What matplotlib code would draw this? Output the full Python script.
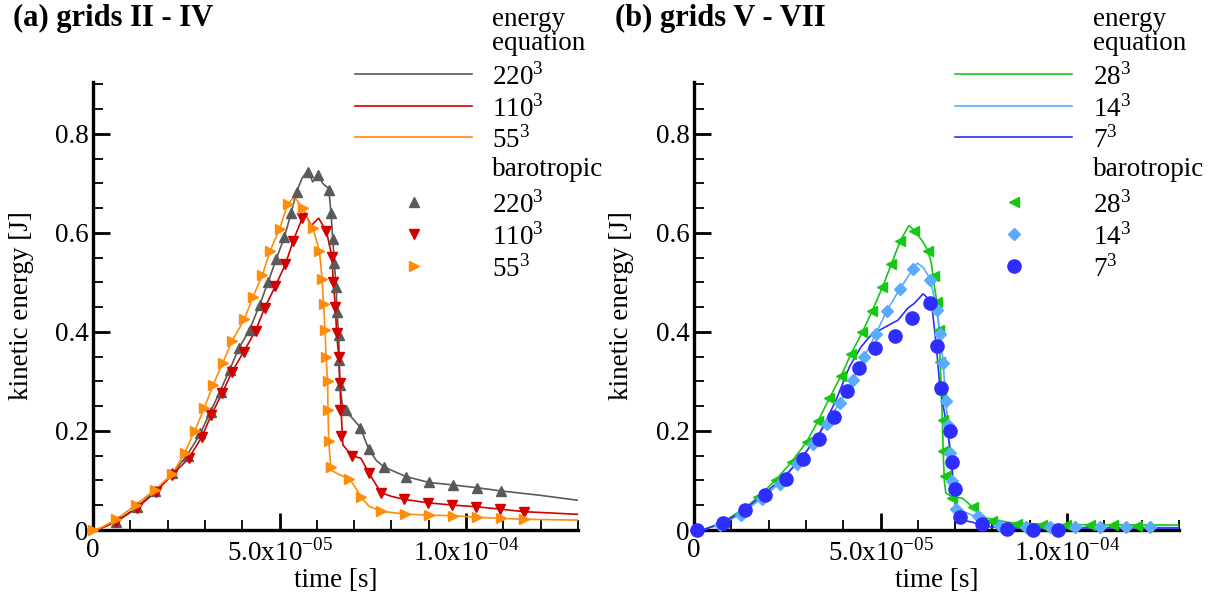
import matplotlib
matplotlib.use("Agg")
import matplotlib.pyplot as plt
import numpy as np
from matplotlib.ticker import MultipleLocator, FixedLocator, FixedFormatter

plt.rcParams['font.family'] = ['Liberation Serif', 'DejaVu Serif']
plt.rcParams['mathtext.fontset'] = 'custom'
plt.rcParams['mathtext.rm'] = 'Liberation Serif'

SCALE = 1e-4  # time values below are in units of 1e-4 s

# ---------------- panel (a) : grids II - IV ----------------
e220_t = [0, 0.02, 0.063, 0.118, 0.166, 0.211, 0.251, 0.286, 0.313, 0.340, 0.366, 0.391, 0.420, 0.447,
          0.469, 0.491, 0.513, 0.531, 0.546, 0.560, 0.576, 0.589, 0.602, 0.616, 0.632, 0.638, 0.643,
          0.647, 0.652, 0.654, 0.659, 0.660, 0.662, 0.668, 0.678, 0.700, 0.717, 0.739, 0.760, 0.781,
          0.839, 0.901, 0.965, 1.029, 1.093, 1.20, 1.30]
e220_E = [0, 0.003, 0.018, 0.046, 0.079, 0.112, 0.150, 0.192, 0.236, 0.279, 0.323, 0.367, 0.405, 0.455,
          0.500, 0.547, 0.591, 0.640, 0.683, 0.710, 0.727, 0.703, 0.719, 0.700, 0.690, 0.640, 0.587,
          0.539, 0.490, 0.440, 0.394, 0.343, 0.293, 0.255, 0.240, 0.222, 0.207, 0.163, 0.140, 0.127,
          0.108, 0.096, 0.091, 0.0855, 0.079, 0.070, 0.060]

b220_t = [0.063, 0.117, 0.166, 0.212, 0.255, 0.286, 0.316, 0.342, 0.366, 0.391, 0.420, 0.447, 0.469,
          0.491, 0.513, 0.531, 0.546, 0.576, 0.602, 0.632, 0.638, 0.643, 0.647, 0.652, 0.654, 0.659,
          0.660, 0.661, 0.678, 0.717, 0.739, 0.781, 0.839, 0.901, 0.965, 1.029, 1.093]
b220_E = [0.017, 0.046, 0.079, 0.115, 0.149, 0.195, 0.239, 0.279, 0.323, 0.367, 0.405, 0.455, 0.500,
          0.547, 0.591, 0.640, 0.683, 0.724, 0.717, 0.687, 0.640, 0.587, 0.539, 0.490, 0.440, 0.394,
          0.343, 0.293, 0.242, 0.207, 0.163, 0.127, 0.108, 0.096, 0.091, 0.0855, 0.079]

e110_t = [0, 0.02, 0.063, 0.117, 0.168, 0.212, 0.257, 0.291, 0.317, 0.346, 0.373, 0.404, 0.436, 0.460,
          0.489, 0.516, 0.536, 0.561, 0.570, 0.584, 0.605, 0.626, 0.641, 0.644, 0.650, 0.653, 0.659,
          0.662, 0.665, 0.670, 0.694, 0.718, 0.739, 0.772, 0.800, 0.834, 0.897, 0.962, 1.026, 1.090,
          1.155, 1.30]
e110_E = [0, 0.003, 0.017, 0.044, 0.077, 0.111, 0.145, 0.187, 0.232, 0.276, 0.320, 0.360, 0.403, 0.448,
          0.493, 0.537, 0.583, 0.630, 0.640, 0.614, 0.630, 0.603, 0.551, 0.500, 0.450, 0.397, 0.350,
          0.293, 0.242, 0.172, 0.150, 0.145, 0.116, 0.0754, 0.068, 0.062, 0.055, 0.0505, 0.047, 0.0424,
          0.037, 0.0317]

b110_t = [0.063, 0.117, 0.168, 0.212, 0.257, 0.291, 0.317, 0.346, 0.373, 0.404, 0.436, 0.460, 0.489,
          0.516, 0.536, 0.561, 0.626, 0.641, 0.644, 0.650, 0.653, 0.659, 0.662, 0.662, 0.665, 0.694,
          0.739, 0.772, 0.834, 0.897, 0.962, 1.026, 1.090, 1.155]
b110_E = [0.017, 0.044, 0.077, 0.111, 0.145, 0.187, 0.232, 0.276, 0.320, 0.360, 0.403, 0.448, 0.493,
          0.537, 0.583, 0.630, 0.603, 0.551, 0.500, 0.450, 0.397, 0.350, 0.296, 0.242, 0.190, 0.150,
          0.116, 0.0754, 0.062, 0.055, 0.0505, 0.047, 0.0424, 0.037]

e55_t = [0, 0.02, 0.063, 0.114, 0.166, 0.212, 0.246, 0.273, 0.298, 0.322, 0.348, 0.373, 0.406, 0.429,
         0.454, 0.475, 0.500, 0.522, 0.540, 0.562, 0.589, 0.607, 0.614, 0.618, 0.622, 0.625, 0.629,
         0.630, 0.632, 0.638, 0.660, 0.686, 0.700, 0.718, 0.740, 0.772, 0.837, 0.901, 0.965, 1.030,
         1.093, 1.155, 1.30]
e55_E = [0, 0.004, 0.0216, 0.0505, 0.081, 0.1125, 0.156, 0.2006, 0.246, 0.293, 0.338, 0.382, 0.426,
         0.471, 0.515, 0.564, 0.608, 0.658, 0.673, 0.650, 0.611, 0.564, 0.508, 0.457, 0.405, 0.350,
         0.300, 0.242, 0.180, 0.121, 0.112, 0.104, 0.090, 0.067, 0.048, 0.038, 0.032, 0.030, 0.029,
         0.0256, 0.0236, 0.0216, 0.020]

b55_t = [0.0, 0.063, 0.114, 0.166, 0.212, 0.246, 0.273, 0.298, 0.322, 0.348, 0.373, 0.406, 0.429, 0.454,
         0.475, 0.500, 0.522, 0.562, 0.589, 0.607, 0.614, 0.618, 0.622, 0.625, 0.629, 0.630, 0.632,
         0.638, 0.686, 0.718, 0.772, 0.837, 0.901, 0.965, 1.030, 1.093, 1.155]
b55_E = [0.0, 0.0216, 0.0505, 0.081, 0.1125, 0.156, 0.2006, 0.246, 0.293, 0.338, 0.382, 0.426, 0.471,
         0.515, 0.564, 0.608, 0.658, 0.650, 0.611, 0.564, 0.508, 0.457, 0.405, 0.350, 0.300, 0.242,
         0.180, 0.128, 0.104, 0.067, 0.038, 0.032, 0.030, 0.029, 0.0256, 0.0236, 0.0216]

# ---------------- panel (b) : grids V - VII ----------------
e28_t = [0, 0.03, 0.078, 0.137, 0.172, 0.220, 0.262, 0.302, 0.333, 0.363, 0.394, 0.421, 0.451, 0.478,
         0.505, 0.529, 0.553, 0.576, 0.591, 0.614, 0.627, 0.636, 0.643, 0.651, 0.657, 0.662, 0.666,
         0.668, 0.671, 0.675, 0.690, 0.720, 0.748, 0.784, 0.847, 0.95, 1.30]
e28_E = [0, 0.002, 0.016, 0.045, 0.066, 0.102, 0.138, 0.178, 0.221, 0.266, 0.311, 0.356, 0.399, 0.443,
         0.490, 0.537, 0.584, 0.615, 0.605, 0.582, 0.564, 0.540, 0.500, 0.461, 0.405, 0.300, 0.220,
         0.160, 0.100, 0.075, 0.068, 0.064, 0.046, 0.024, 0.015, 0.011, 0.010]

b28_t = [0.172, 0.220, 0.262, 0.302, 0.333, 0.363, 0.394, 0.421, 0.451, 0.478, 0.505, 0.529, 0.553,
         0.591, 0.627, 0.643, 0.651, 0.657, 0.660, 0.663, 0.668, 0.668, 0.674, 0.693, 0.748, 0.800,
         0.865, 0.932, 0.997, 1.062, 1.124, 1.189]
b28_E = [0.066, 0.102, 0.138, 0.178, 0.221, 0.266, 0.311, 0.356, 0.399, 0.443, 0.490, 0.537, 0.584,
         0.603, 0.564, 0.513, 0.461, 0.405, 0.340, 0.276, 0.222, 0.160, 0.109, 0.064, 0.046, 0.019,
         0.012, 0.010, 0.010, 0.010, 0.010, 0.009]

e14_t = [0, 0.03, 0.078, 0.125, 0.182, 0.230, 0.276, 0.318, 0.357, 0.392, 0.426, 0.457, 0.488, 0.517,
         0.551, 0.587, 0.599, 0.615, 0.634, 0.651, 0.660, 0.668, 0.675, 0.681, 0.687, 0.693, 0.703,
         0.730, 0.762, 0.820, 0.890, 1.30]
e14_E = [0, 0.002, 0.013, 0.032, 0.064, 0.095, 0.135, 0.176, 0.217, 0.259, 0.305, 0.350, 0.397, 0.443,
         0.486, 0.527, 0.539, 0.530, 0.506, 0.444, 0.396, 0.337, 0.261, 0.212, 0.156, 0.098, 0.045,
         0.035, 0.025, 0.010, 0.006, 0.005]

b14_t = [0.005, 0.070, 0.125, 0.182, 0.230, 0.276, 0.318, 0.357, 0.392, 0.426, 0.457, 0.488, 0.517,
         0.551, 0.587, 0.634, 0.651, 0.660, 0.668, 0.675, 0.681, 0.687, 0.693, 0.703, 0.762, 0.820,
         0.890, 0.954, 1.022, 1.089, 1.159, 1.223]
b14_E = [0.0, 0.010, 0.030, 0.062, 0.093, 0.133, 0.174, 0.215, 0.257, 0.303, 0.349, 0.396, 0.443,
         0.486, 0.527, 0.506, 0.444, 0.396, 0.337, 0.261, 0.212, 0.156, 0.098, 0.042, 0.028, 0.009,
         0.0055, 0.0055, 0.0055, 0.0055, 0.0055, 0.0055]

e7_t = [0, 0.03, 0.078, 0.137, 0.191, 0.246, 0.293, 0.334, 0.357, 0.381, 0.417, 0.448, 0.475, 0.515,
        0.547, 0.573, 0.591, 0.614, 0.623, 0.639, 0.650, 0.659, 0.680, 0.690, 0.697, 0.703, 0.720,
        0.750, 0.780, 0.850, 1.30]
e7_E = [0, 0.002, 0.014, 0.042, 0.075, 0.111, 0.150, 0.192, 0.225, 0.263, 0.330, 0.370, 0.394, 0.411,
        0.424, 0.448, 0.458, 0.477, 0.471, 0.444, 0.370, 0.290, 0.200, 0.140, 0.080, 0.030, 0.020,
        0.015, 0.007, 0.004, 0.004]

b7_t = [0.007, 0.078, 0.137, 0.191, 0.246, 0.293, 0.334, 0.375, 0.409, 0.442, 0.484, 0.538, 0.585,
        0.632, 0.652, 0.663, 0.685, 0.692, 0.699, 0.712, 0.773, 0.840, 0.908, 0.977]
b7_E = [0.0, 0.0135, 0.040, 0.071, 0.104, 0.143, 0.183, 0.228, 0.281, 0.327, 0.367, 0.392, 0.428,
        0.459, 0.372, 0.286, 0.199, 0.138, 0.082, 0.026, 0.012, 0.0015, 0.0, 0.0]

# labels
titles = ["(a) grids II - IV", "(b) grids V - VII"]
grid_labels_a = ["220", "110", "55"]
grid_labels_b = ["28", "14", "7"]
ytick_vals = [0, 0.2, 0.4, 0.6, 0.8]
ytick_labels = ["0", "0.2", "0.4", "0.6", "0.8"]
xtick_vals = [0, 5e-5, 1e-4]
xtick_labels = ["0", r"5.0x10$^{\mathregular{-05}}$", r"1.0x10$^{\mathregular{-04}}$"]

GRAY = '#5a5a5a'
RED = '#d40000'
ORANGE = '#ff8c0a'
GREEN = '#14c814'
LBLUE = '#5aaaff'
DBLUE = '#2d2dff'

W, H = 1215, 601
fig = plt.figure(figsize=(W / 100, H / 100), dpi=100)

FS = 19.5


def make_axes(x0px, ylabel_x):
    x1px = x0px + 1.3 * 373
    ax = fig.add_axes([x0px / W, (H - 530) / H, (x1px - x0px) / W, 448 / H])
    ax.set_xlim(0, 1.3e-4)
    ax.set_ylim(0, 0.905)
    for s in ['top', 'right']:
        ax.spines[s].set_visible(False)
    for s in ['left', 'bottom']:
        ax.spines[s].set_linewidth(2.4)
    ax.xaxis.set_major_locator(FixedLocator(xtick_vals))
    ax.xaxis.set_major_formatter(FixedFormatter(xtick_labels))
    ax.xaxis.set_minor_locator(MultipleLocator(1e-5))
    ax.yaxis.set_major_locator(FixedLocator(ytick_vals))
    ax.yaxis.set_major_formatter(FixedFormatter(ytick_labels))
    ax.yaxis.set_minor_locator(MultipleLocator(0.05))
    ax.tick_params(which='major', direction='in', length=12, width=2.0, labelsize=FS, pad=6)
    ax.tick_params(which='minor', direction='in', length=7, width=1.3)
    ax.tick_params(axis='y', which='major', pad=3)
    ax.set_xlabel("time [s]", fontsize=FS)
    ax.set_ylabel("kinetic energy [J]", fontsize=FS)
    ax.xaxis.set_label_coords(0.5, -0.112)
    ax.xaxis.label.set_va('center')
    ax.yaxis.set_label_coords((ylabel_x - x0px) / (x1px - x0px), 0.50)
    ax.yaxis.label.set_va('center')
    return ax


axA = make_axes(93, 22)
axB = make_axes(694, 622)


def T(lst):
    return np.array(lst) * SCALE


lw = 1.2
axA.plot(T(e220_t), e220_E, color=GRAY, lw=lw, zorder=3)
axA.plot(T(e110_t), e110_E, color=RED, lw=lw, zorder=3)
axA.plot(T(e55_t), e55_E, color=ORANGE, lw=lw, zorder=3)
axA.plot(T(b220_t), b220_E, ls='none', marker='^', ms=7.5, color=GRAY, zorder=4, clip_on=False)
axA.plot(T(b110_t), b110_E, ls='none', marker='v', ms=7.5, color=RED, zorder=4, clip_on=False)
axA.plot(T(b55_t), b55_E, ls='none', marker='>', ms=7.5, color=ORANGE, zorder=4, clip_on=False)

axB.plot(T(e28_t), e28_E, color=GREEN, lw=lw, zorder=3)
axB.plot(T(e14_t), e14_E, color=LBLUE, lw=lw, zorder=3)
axB.plot(T(e7_t), e7_E, color=DBLUE, lw=lw, zorder=3)
axB.plot(T(b28_t), b28_E, ls='none', marker='<', ms=7, color=GREEN, zorder=4, clip_on=False)
axB.plot(T(b14_t), b14_E, ls='none', marker='D', ms=6.2, color=LBLUE, zorder=4, clip_on=False)
axB.plot(T(b7_t), b7_E, ls='none', marker='o', ms=9.5, color=DBLUE, zorder=4, clip_on=False)

# overlay for titles and legends (pixel coordinates)
ov = fig.add_axes([0, 0, 1, 1], zorder=10)
ov.set_xlim(0, W)
ov.set_ylim(H, 0)
ov.axis('off')
ov.patch.set_alpha(0)

ov.text(13, 18, titles[0], fontsize=22, fontweight='bold', ha='left', va='center')
ov.text(615, 18, titles[1], fontsize=22, fontweight='bold', ha='left', va='center')


def legend(line_x0, line_x1, text_x, marker_x, labels, colors, markers, msizes):
    ov.text(text_x, 19, "energy", fontsize=FS, ha='left', va='center')
    ov.text(text_x, 44, "equation", fontsize=FS, ha='left', va='center')
    for y, lab, c in zip([74, 106, 137], labels, colors):
        ov.plot([line_x0, line_x1], [y, y], color=c, lw=lw)
        ov.text(text_x, y + 3, lab + r"$^{\mathregular{3}}$", fontsize=FS, ha='left', va='center')
    ov.text(text_x, 170, "barotropic", fontsize=FS, ha='left', va='center')
    for y, lab, c, m, s in zip([202, 234, 266], labels, colors, markers, msizes):
        ov.plot([marker_x], [y], ls='none', marker=m, ms=s, color=c)
        ov.text(text_x, y + 3, lab + r"$^{\mathregular{3}}$", fontsize=FS, ha='left', va='center')


legend(355, 472, 492, 414, grid_labels_a, [GRAY, RED, ORANGE], ['^', 'v', '>'], [7.5, 7.5, 7.5])
legend(955, 1072, 1093, 1014, grid_labels_b, [GREEN, LBLUE, DBLUE], ['<', 'D', 'o'], [7, 6.2, 9.5])

fig.savefig("out.png", dpi=100)
